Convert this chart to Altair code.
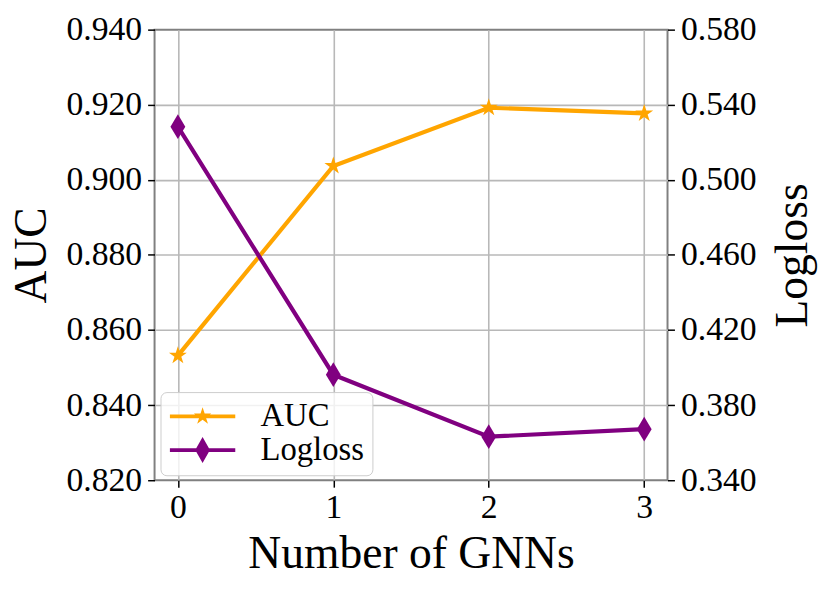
import math
import altair as alt
import pandas as pd

# ---- data ----
n_gnns = [0, 1, 2, 3]
auc = [0.8532, 0.9037, 0.9192, 0.9177]
logloss = [0.5283, 0.3962, 0.3632, 0.3672]
series_names = ["AUC", "Logloss"]

ORANGE = "#FFA500"
PURPLE = "#800080"
FONT = "Liberation Serif"


def star_path(R, ratio=0.381966):
    pts = []
    for k in range(10):
        a = math.radians(k * 36)
        rad = R if k % 2 == 0 else R * ratio
        pts.append((rad * math.sin(a), -rad * math.cos(a)))
    return "M" + "L".join(f"{x:.4f},{y:.4f}" for x, y in pts) + "Z"


def diamond_path(h, w):
    return f"M0,{-h}L{w},0L0,{h}L{-w},0Z"


LINE_SEG = "M-2,-0.115L2,-0.115L2,0.115L-2,0.115Z"
leg_star = LINE_SEG + star_path(0.56)
leg_diamond = LINE_SEG + diamond_path(0.80, 0.45)

df_auc = pd.DataFrame({"n": n_gnns, "value": auc, "series": "AUC"})
df_log = pd.DataFrame({"n": n_gnns, "value": logloss, "series": "Logloss"})

axis_common = dict(
    labelFont=FONT, labelFontSize=34, labelColor="black",
    titleFont=FONT, titleFontSize=46, titleFontWeight="normal", titleColor="black",
)

x_enc = alt.X(
    "n:Q",
    scale=alt.Scale(domain=[-0.15, 3.15], nice=False, zero=False),
    axis=alt.Axis(
        values=n_gnns, format="d", title="Number of GNNs",
        titleX=259, titleY=88, titleAlign="center", titleBaseline="alphabetic",
        labelPadding=4, **axis_common,
    ),
)

grid_hide = {"condition": {"test": "datum.value < 0.8201 || datum.value > 0.9399", "value": 0}, "value": 1}

y_auc = alt.Y(
    "value:Q",
    scale=alt.Scale(domain=[0.82, 0.94], nice=False, zero=False),
    axis=alt.Axis(
        values=[0.82, 0.84, 0.86, 0.88, 0.90, 0.92, 0.94], format=".3f",
        title="AUC", titleAngle=270, titleX=-110, titleY=227.5,
        titleAlign="center", titleBaseline="alphabetic",
        gridOpacity=grid_hide, **axis_common,
    ),
)

y_log = alt.Y(
    "value:Q",
    scale=alt.Scale(domain=[0.34, 0.58], nice=False, zero=False),
    axis=alt.Axis(
        orient="right", grid=False,
        values=[0.34, 0.38, 0.42, 0.46, 0.50, 0.54, 0.58], format=".3f",
        title="Logloss", titleAngle=270, titleX=140, titleY=227.5,
        titleAlign="center", titleBaseline="alphabetic", **axis_common,
    ),
)

base_auc = alt.Chart(df_auc).encode(x=x_enc, y=y_auc)
base_log = alt.Chart(df_log).encode(x=x_enc, y=y_log)

auc_line = base_auc.mark_line(color=ORANGE, strokeWidth=4.2)
auc_pts = base_auc.mark_point(filled=True, opacity=1, color=ORANGE, shape=star_path(1.0), size=360)

leg_kwargs = dict(
    title=None, orient="none", legendX=6, legendY=366,
    padding=8, fillColor="rgba(255,255,255,0.8)", strokeColor="#cccccc",
    cornerRadius=6, symbolSize=1089, symbolOffset=18, labelOffset=42,
    rowPadding=0, symbolStrokeWidth=0, labelFont=FONT, labelFontSize=33,
    labelColor="black", labelBaseline="middle",
)

legend_layer = base_auc.transform_filter("false").mark_point(filled=True, opacity=1, size=1089).encode(
    color=alt.Color(
        "series:N",
        scale=alt.Scale(domain=series_names, range=[ORANGE, PURPLE]),
        legend=alt.Legend(**leg_kwargs),
    ),
    shape=alt.Shape(
        "series:N",
        scale=alt.Scale(domain=series_names, range=[leg_star, leg_diamond]),
        legend=alt.Legend(**leg_kwargs),
    ),
)

log_line = base_log.mark_line(color=PURPLE, strokeWidth=4.2)
log_pts = base_log.mark_point(filled=True, opacity=1, color=PURPLE, shape=diamond_path(1, 0.6), size=625)

left = alt.layer(auc_line, auc_pts, legend_layer)
right = alt.layer(log_line, log_pts)

chart = (
    alt.layer(left, right)
    .resolve_scale(y="independent")
    .properties(
        width=518, height=455,
        autosize=alt.AutoSizeParams(type="none"),
        padding={"left": 148, "top": 19, "right": 156, "bottom": 108},
    )
    .configure(
        font=FONT,
        style={"guide-label": {"font": FONT}, "guide-title": {"font": FONT}},
    )
    .configure_view(stroke="#808080", strokeWidth=2)
    .configure_legend(labelFont=FONT, labelFontSize=33)
    .configure_axis(
        domain=False,
        labelFont=FONT, labelFontSize=34, labelColor="black",
        titleFont=FONT, titleFontSize=46, titleFontWeight="normal", titleColor="black",
        tickColor="black", tickWidth=1.5, tickSize=7, labelPadding=6,
        gridColor="#b8b8b8", gridWidth=1.6,
    )
)

chart.save("out.html", embed_options={"renderer": "svg", "actions": False})
